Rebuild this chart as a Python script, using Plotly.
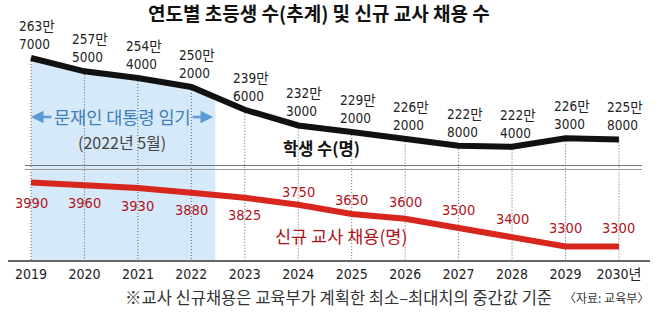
import numpy as np
import plotly.graph_objects as go

# ---- data -------------------------------------------------------------
years = list(range(2019, 2031))
year_labels = [str(y) for y in years[:-1]] + ["2030년"]
students = [2637000, 2575000, 2544000, 2502000, 2396000, 2323000,
            2292000, 2262000, 2228000, 2224000, 2263000, 2258000]
teachers = [3990, 3960, 3930, 3880, 3825, 3750,
            3650, 3600, 3500, 3400, 3300, 3300]
term_end = 2022.45  # end of the presidential term (May 2022)

# ---- canvas geometry --------------------------------------------------
W, H = 658, 324
ML, MR, MT, MB = 8, 8, 0, 64
PW, PH = W - ML - MR, H - MT - MB
X_FIRST_PX, STEP_PX = 31, 53.45          # pixel column of 2019, px per year
x_range = [years[0] - (X_FIRST_PX - ML) / STEP_PX,
           years[0] + (W - MR - X_FIRST_PX) / STEP_PX]


def axis_range(v_hi, px_hi, v_lo, px_lo):
    """Linear value range so that v_hi sits at px_hi and v_lo at px_lo."""
    k = (px_lo - px_hi) / (v_hi - v_lo)
    top = v_hi + (px_hi - MT) / k
    return [top - PH / k, top]


s_range = axis_range(max(students), 58, min(students), 146.7)
t_range = axis_range(max(teachers), 182.5, min(teachers), 246.5)


def px(x, y):
    """Pixel position -> paper coordinates."""
    return (x - ML) / PW, 1 - (y - MT) / PH


NARROW = "DejaVu Sans Condensed, Noto Sans CJK KR"
KR = "Noto Sans CJK KR"
BLACK_LINE = "#111111"
RED_LINE = "#d7261e"
RED_TEXT = "#b0131b"
SHADE = "#d6e9f8"

fig = go.Figure()

# shaded band under the student line for the presidential term
shade_x = [y for y in years if y <= term_end] + [term_end]
shade_y = [s for y, s in zip(years, students) if y <= term_end] + \
          [float(np.interp(term_end, years, students))]
fig.add_trace(go.Scatter(x=shade_x, y=shade_y, mode="lines",
                         line=dict(width=0), fill="tozeroy",
                         fillcolor=SHADE, hoverinfo="skip", yaxis="y"))

# dotted drop lines from each student point to the axis
dx, dy = [], []
for y, s in zip(years, students):
    dx += [y, y, None]
    dy += [s, s_range[0], None]
fig.add_trace(go.Scatter(x=dx, y=dy, mode="lines",
                         line=dict(color="#666666", width=1, dash="1px,2px"),
                         hoverinfo="skip", yaxis="y"))

# teacher hiring line
fig.add_trace(go.Scatter(x=years, y=teachers, mode="lines",
                         line=dict(color=RED_LINE, width=6),
                         hoverinfo="skip", yaxis="y2"))
# student count line
fig.add_trace(go.Scatter(x=years, y=students, mode="lines",
                         line=dict(color=BLACK_LINE, width=6),
                         hoverinfo="skip", yaxis="y"))

annotations = []

# student labels: "263만" over "7000"
for y, s in zip(years, students):
    man, rest = divmod(s, 10000)
    annotations.append(dict(x=y, y=s, xref="x", yref="y",
                            text=f"{man}만<br>{rest:04d}", align="left",
                            showarrow=False, xanchor="left",
                            yanchor="middle", xshift=-14, yshift=23,
                            font=dict(family=NARROW, size=13.5,
                                      color="#222222")))

# teacher labels: below the line early on, above it later
t_shifts = [-20, -18, -18, -17, -17, 13, 14, 17, 18, 18, 19, 19]
for y, t, sh in zip(years, teachers, t_shifts):
    annotations.append(dict(x=y, y=t, xref="x", yref="y2", text=str(t),
                            showarrow=False, xanchor="center",
                            yanchor="middle", yshift=sh,
                            font=dict(family=NARROW, size=14.5,
                                      color=RED_TEXT)))


def text_at(x, y, text, size, color, anchor="center", bold=False,
            family=KR):
    px_x, px_y = px(x, y)
    annotations.append(dict(x=px_x, y=px_y, xref="paper", yref="paper",
                            text=text, showarrow=False, xanchor=anchor,
                            yanchor="middle",
                            font=dict(family=family, size=size, color=color,
                                      weight="bold" if bold else "normal")))


text_at(319, 12, "연도별 초등생 수(추계) 및 신규 교사 채용 수", 19, "#111111",
        bold=True)
text_at(321, 148, "학생 수(명)", 16.5, "#111111", bold=True)
text_at(341, 235, "신규 교사 채용(명)", 17.5, RED_TEXT)
text_at(122.5, 117, "문재인 대통령 임기", 17.5, "#3d7fb8")
text_at(121.5, 142, "(2022년 5월)", 16, "#444444")
text_at(123, 297, "※교사 신규채용은 교육부가 계획한 최소–최대치의 중간값 기준",
        16.5, "#333333", anchor="left")
text_at(606, 297, "〈자료: 교육부〉", 12, "#333333")

# arrows either side of the term caption
for tip, tail in ((31, 53), (213, 191)):
    tx, ty = px(tip, 117)
    annotations.append(dict(x=tx, y=ty, xref="paper", yref="paper",
                            ax=tail - tip, ay=0, axref="pixel", ayref="pixel",
                            text="", showarrow=True, arrowhead=2,
                            arrowsize=1, arrowwidth=2.5,
                            arrowcolor="#5b9bd5"))

# double separator between the two panels
shapes = []
for y_px, col in ((165.5, "#777777"), (169.5, "#999999")):
    x0, yy = px(25, y_px)
    x1, _ = px(642, y_px)
    shapes.append(dict(type="line", xref="paper", yref="paper",
                       x0=x0, x1=x1, y0=yy, y1=yy,
                       line=dict(color=col, width=1)))

fig.update_layout(
    width=W, height=H,
    margin=dict(l=ML, r=MR, t=MT, b=MB),
    plot_bgcolor="white", paper_bgcolor="white",
    showlegend=False,
    annotations=annotations,
    shapes=shapes,
    xaxis=dict(range=x_range, tickvals=years, ticktext=year_labels,
               showgrid=False, zeroline=False, showline=True,
               linecolor="#666666", linewidth=1.5, ticks="",
               tickfont=dict(family=NARROW, size=14, color="#222222")),
    yaxis=dict(range=s_range, visible=False, fixedrange=True),
    yaxis2=dict(range=t_range, visible=False, overlaying="y",
                fixedrange=True),
)

fig.write_html("out.html")
